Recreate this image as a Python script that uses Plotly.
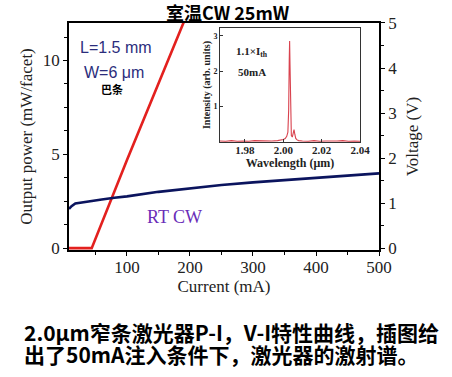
import plotly.graph_objects as go

# ---- data ----
current_pi = [8, 30, 44, 100, 150, 192]
power_pi = [0.0, 0.0, 0.0, 4.7, 8.8, 12.2]

current_vi = [8, 12, 18, 22, 28, 40, 60, 80, 100, 150, 200, 250, 300, 350, 400, 450, 500]
voltage_vi = [0.87, 0.93, 0.99, 1.0, 1.0, 1.03, 1.08, 1.12, 1.15, 1.25, 1.33, 1.40, 1.46, 1.51, 1.56, 1.61, 1.66]

wl = [1.967, 1.970, 1.973, 1.976, 1.979, 1.982, 1.985, 1.988, 1.991, 1.994, 1.997, 1.999,
      2.000, 2.001, 2.0018, 2.0024, 2.0028, 2.0031, 2.0033, 2.0035, 2.0038, 2.0042, 2.0047,
      2.0052, 2.0056, 2.0060, 2.0065, 2.0072, 2.008, 2.010, 2.013, 2.016, 2.019, 2.022,
      2.025, 2.028, 2.031, 2.034, 2.037, 2.040]
intensity = [0.03, 0.02, 0.04, 0.02, 0.03, 0.02, 0.04, 0.03, 0.02, 0.03, 0.04, 0.05,
             0.07, 0.10, 0.16, 0.28, 0.9, 2.3, 2.85, 2.2, 0.6, 0.18, 0.14,
             0.24, 0.35, 0.22, 0.10, 0.06, 0.04, 0.03, 0.02, 0.04, 0.02, 0.03,
             0.02, 0.03, 0.04, 0.02, 0.03, 0.02]

x_ticks = [100, 200, 300, 400, 500]
inset_ticks = [1.98, 2.00, 2.02, 2.04]

serif = "Liberation Serif"
sans = "Liberation Sans"
cjk = "Noto Sans CJK SC"

fig = go.Figure()
fig.add_trace(go.Scatter(x=current_pi, y=power_pi, mode="lines",
                         line=dict(color="#e3201e", width=2.6), xaxis="x", yaxis="y"))
fig.add_trace(go.Scatter(x=current_vi, y=voltage_vi, mode="lines",
                         line=dict(color="#0b145e", width=2.6), xaxis="x", yaxis="y2"))
fig.add_trace(go.Scatter(x=wl, y=intensity, mode="lines",
                         line=dict(color="#d9424e", width=1.1), xaxis="x3", yaxis="y3"))

axis_common = dict(showline=True, linecolor="black", linewidth=1.5, showgrid=False,
                   zeroline=False, ticks="outside", tickcolor="black", ticklen=4, tickwidth=1.3,
                   layer="below traces", automargin=False,
                   tickfont=dict(family=serif, size=17, color="#222"))

fig.update_layout(
    width=452, height=377,
    margin=dict(l=0, r=0, t=0, b=0),
    paper_bgcolor="white", plot_bgcolor="rgba(0,0,0,0)",
    showlegend=False,
    xaxis=dict(domain=[0.1527, 0.8385], range=[8, 500], tickvals=x_ticks, mirror=True,
               minor=dict(dtick=50, ticklen=3, ticks="outside", tickcolor="black"),
               ticklabelstandoff=-3,
               title=dict(text="Current (mA)", font=dict(family=serif, size=17, color="#222"), standoff=2),
               anchor="y", **axis_common),
    yaxis=dict(domain=[0.3369, 0.939], range=[-0.1, 12], tickvals=[0, 5, 10],
               minor=dict(dtick=1.25, ticklen=3, ticks="outside", tickcolor="black"),
               title=dict(text="Output power (mW/facet)", font=dict(family=serif, size=17, color="#222"), standoff=6),
               anchor="x", **axis_common),
    yaxis2=dict(range=[-0.0417, 5], tickvals=[0, 1, 2, 3, 4, 5], overlaying="y", side="right",
                minor=dict(dtick=0.5, ticklen=3, ticks="outside", tickcolor="black"),
                title=dict(text="Voltage (V)", font=dict(family=serif, size=17, color="#222"), standoff=10),
                anchor="x", **axis_common),
    xaxis3=dict(domain=[0.4867, 0.7965], range=[1.967, 2.040], tickvals=inset_ticks,
                ticktext=["1.98", "2.00", "2.02", "2.04"], anchor="y3", automargin=False,
                showline=True, linecolor="#333", linewidth=1, mirror=True, showgrid=False, zeroline=False,
                ticks="inside", ticklen=3, tickcolor="#333", ticklabelstandoff=-2,
                tickfont=dict(family=serif, size=11, color="#222", weight="bold"),
                title=dict(text="Wavelength (μm)", font=dict(family=serif, size=12, color="#222", weight="bold"), standoff=0)),
    yaxis3=dict(domain=[0.6233, 0.9257], range=[0, 3.22], tickvals=[1, 2, 3], anchor="x3", automargin=False,
                showline=True, linecolor="#333", linewidth=1, mirror=True, showgrid=False, zeroline=False,
                ticks="inside", ticklen=3, tickcolor="#333",
                tickfont=dict(family=serif, size=8, color="#222", weight="bold"),
                title=dict(text="Intensity (arb. units)", font=dict(family=serif, size=10, color="#222", weight="bold"), standoff=0)),
)

ann = [
    dict(text="室温CW 25mW", x=228, y=12, font=dict(family=cjk, size=18, color="black", weight="bold")),
    dict(text="L=1.5 mm", x=116, y=48, font=dict(family=sans, size=16, color="#2b2d7c")),
    dict(text="W=6 μm", x=114, y=72, font=dict(family=sans, size=16, color="#2b2d7c")),
    dict(text="巴条", x=112, y=89, font=dict(family=cjk, size=11, color="black", weight="bold")),
    dict(text="RT CW", x=174, y=217, font=dict(family=serif, size=18, color="#6a2db8")),
    dict(text="1.1×I<sub>th</sub>", x=252, y=52, font=dict(family=serif, size=11, color="#222", weight="bold")),
    dict(text="50mA", x=252, y=72, font=dict(family=serif, size=11, color="#222", weight="bold")),
    dict(text="2.0μm窄条激光器P-I，V-I特性曲线，插图给", x=22, y=332, xanchor="left",
         font=dict(family=cjk, size=21, color="black", weight="bold")),
    dict(text="出了50mA注入条件下，激光器的激射谱。", x=22, y=354, xanchor="left",
         font=dict(family=cjk, size=21, color="black", weight="bold")),
]
for a in ann:
    fig.add_annotation(text=a["text"], x=a["x"] / 452, y=1 - a["y"] / 377, xref="paper", yref="paper",
                       xanchor=a.get("xanchor", "center"), yanchor="middle", showarrow=False, font=a["font"])

fig.write_html("out.html", config={"displayModeBar": False},
               post_script="document.body.style.margin='0';")
